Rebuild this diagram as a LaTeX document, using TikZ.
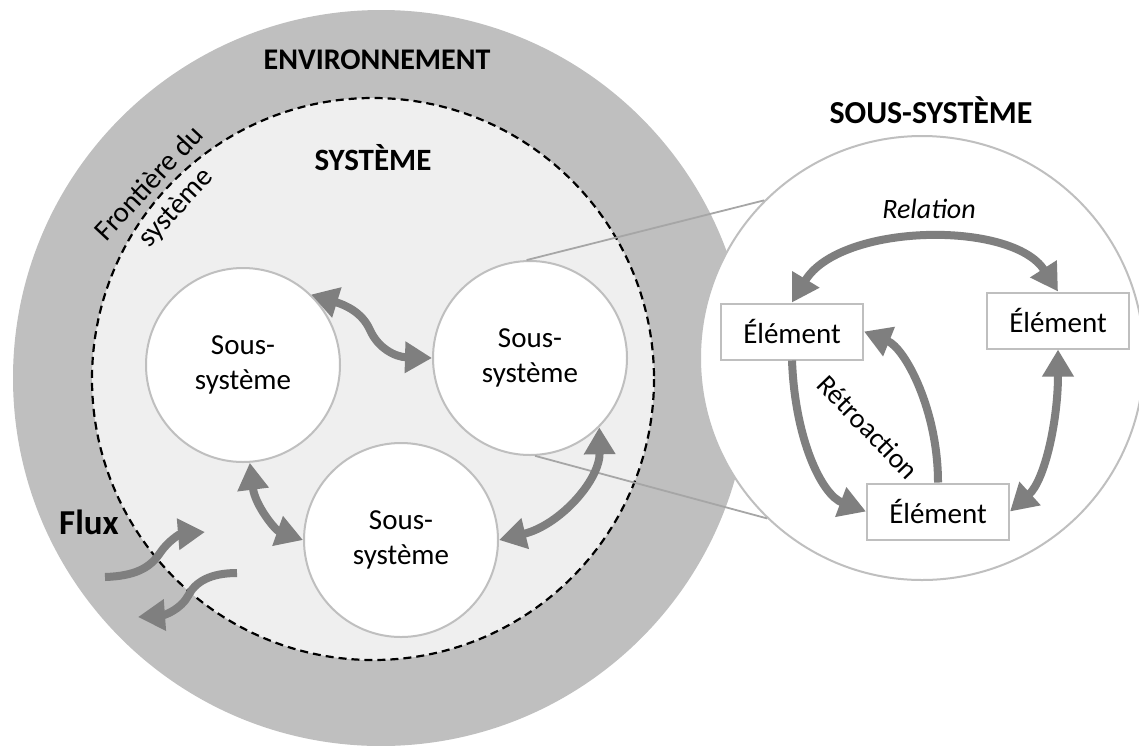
\documentclass[tikz,border=0pt]{standalone}
\usepackage{fontspec}
\setmainfont{Carlito}
\usetikzlibrary{arrows.meta}
\definecolor{envgray}{HTML}{BFBFBF}
\definecolor{sysgray}{HTML}{EFEFEF}
\definecolor{arrgray}{HTML}{7F7F7F}
\definecolor{edgegray}{HTML}{BFBFBF}
\definecolor{linegray}{HTML}{A6A6A6}
\begin{document}
\begin{tikzpicture}[x=1pt,y=-1pt,
  sub/.style={circle, draw=edgegray, line width=2pt, fill=white, minimum size=194pt, inner sep=0pt, align=center, font=\fontsize{29}{35}\selectfont},
  elem/.style={rectangle, draw=edgegray, line width=2pt, fill=white, minimum width=142pt, minimum height=56pt, inner sep=0pt, font=\fontsize{29}{35}\selectfont},
  title/.style={font=\fontsize{31}{37}\selectfont\bfseries},
  flow/.style={draw=arrgray, line width=8pt, -{Triangle[length=27pt,width=30pt]}},
  dflow/.style={draw=arrgray, line width=8pt, {Triangle[length=27pt,width=30pt]}-{Triangle[length=27pt,width=30pt]}},
  zoomline/.style={draw=linegray, line width=1.8pt}]
\clip (0,0) rectangle (1139,745);
% environment and system
\fill[envgray] (381,378) circle[radius=368];
\draw[black, line width=2.2pt, dash pattern=on 8pt off 5pt, fill=sysgray] (373,379) circle[radius=281];
% sub-systems
\node[sub] (S1) at (243,365) {Sous-\\système};
\node[sub] (S2) at (530,358) {Sous-\\système};
\node[sub] (S3) at (401,540) {Sous-\\système};
% zoomed sub-system
\node[circle, draw=edgegray, line width=2pt, fill=white, minimum size=444pt, inner sep=0pt] (R) at (922,358) {};
\draw[zoomline] (S2.92) -- (R.135);
\draw[zoomline] (S2.-87) -- (R.-134);
% labels
\node[font=\fontsize{30}{36}\selectfont\bfseries] (env) at (377,60) {ENVIRONNEMENT};
\node[title] (sys) at (373,158) {SYSTÈME};
\node[font=\fontsize{32}{38}\selectfont\bfseries] (ssys) at (931,110) {SOUS-SYSTÈME};
\node[font=\fontsize{29}{36}\selectfont, align=center, rotate=47] (front) at (163,196) {Frontière du\\système};
\node[font=\fontsize{35}{40}\selectfont\bfseries] (flux) at (89,522) {Flux};
\node[font=\fontsize{28}{34}\selectfont\itshape] (rel) at (929,209) {Relation};
\node[font=\fontsize{28}{34}\selectfont, rotate=-46] (retro) at (868,427) {Rétroaction};
% elements
\node[elem] (e1) at (792,331.5) {Élément};
\node[elem] (e2) at (1058,320.5) {Élément};
\node[elem] (e3) at (938,511.5) {Élément};
% arrows between sub-systems
\draw[dflow] (S1.46) .. controls (345,305) and (362,312) .. (370,330) .. controls (378,348) and (395,357) .. (S2.west);
\draw[dflow] (S1.-86) .. controls (255,505) and (275,530) .. (S3.west);
\draw[dflow] (S2.-45) .. controls (600,480) and (560,525) .. (S3.east);
% flux
\coordinate (fin0) at (105,577);
\coordinate (fin1) at (205,532);
\coordinate (fout0) at (237,573);
\coordinate (fout1) at (138,617);
\draw[flow] (fin0) .. controls (135,576) and (150,568) .. (160,553) .. controls (168,541) and (180,534) .. (fin1);
\draw[flow] (fout0) .. controls (210,573) and (195,582) .. (188,596) .. controls (181,609) and (165,615) .. (fout1);
% arrows between elements
\draw[dflow] (e1.north) .. controls (840,223) and (1012,220) .. (e2.north);
\draw[flow] (e1.south) .. controls (795,440) and (822,495) .. (e3.west);
\draw[flow] (e3.north) .. controls (938,410) and (905,348) .. (e1.east);
\draw[dflow] (e2.south) .. controls (1058,420) and (1045,480) .. (e3.east);
\end{tikzpicture}
\end{document}
